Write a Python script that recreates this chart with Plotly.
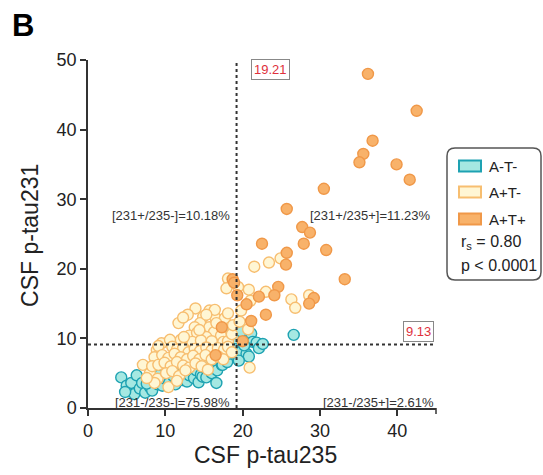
import plotly.graph_objects as go

# ---- data (x = CSF p-tau235, y = CSF p-tau231) ----
a_neg_t_neg = [
    (4.3, 4.4), (5.0, 3.2), (5.3, 2.4), (5.6, 3.6), (6.0, 2.0), (6.3, 4.7), (6.7, 2.8), (7.0, 3.6),
    (7.4, 2.2), (7.8, 4.0), (8.0, 3.0), (8.3, 2.5), (8.6, 4.3), (9.0, 3.4), (9.1, 7.4), (9.3, 4.8),
    (9.6, 3.2), (10.0, 4.2), (10.3, 5.5), (10.5, 3.6), (10.8, 7.0), (11.0, 4.6), (11.3, 3.4), (11.6, 5.2),
    (11.9, 6.3), (12.2, 4.0), (12.5, 5.0), (12.8, 3.8), (13.1, 4.7), (13.4, 6.0), (13.7, 4.3), (14.0, 5.4),
    (14.3, 3.7), (14.6, 4.8), (14.8, 4.5), (15.0, 5.8), (15.3, 4.4), (15.6, 6.3), (16.0, 5.0), (16.3, 6.8),
    (16.6, 3.6), (16.7, 5.4), (17.0, 7.0), (17.3, 6.2), (17.4, 6.2), (17.6, 8.0), (17.9, 6.9), (18.0, 6.6),
    (18.3, 7.8), (18.6, 9.0), (17.8, 10.4), (16.9, 9.6), (18.2, 11.6), (19.0, 10.0), (17.7, 11.2),
    (9.3, 6.2), (7.6, 3.5), (4.8, 2.3),
    (19.8, 11.0), (19.8, 8.1), (20.5, 7.8), (20.8, 7.4), (21.1, 10.7), (21.3, 9.5), (21.8, 9.4),
    (22.1, 8.6), (22.6, 9.2), (26.6, 10.5), (19.5, 6.8), (20.2, 9.0),
]

a_pos_t_neg = [
    (13.9, 14.3), (12.9, 13.4), (11.7, 12.2), (12.3, 13.0), (15.7, 14.0), (14.9, 13.1), (16.4, 13.1),
    (17.7, 12.9), (18.1, 13.6), (14.5, 12.2), (15.7, 11.6), (13.8, 11.6), (13.1, 10.4), (14.1, 10.8),
    (16.3, 10.9), (15.3, 10.2), (17.2, 10.4), (9.5, 9.3), (11.0, 9.3), (12.0, 9.8), (13.5, 9.5),
    (14.6, 9.7), (16.0, 9.6), (17.5, 9.5), (18.1, 9.6), (18.6, 10.6), (16.6, 12.2), (14.4, 11.2),
    (12.4, 10.2), (10.6, 9.8), (18.1, 18.6), (17.9, 17.2), (18.75, 11.9), (16.4, 14.1), (15.3, 13.4),
    (8.9, 8.3), (9.1, 8.9), (10.9, 8.8), (11.5, 8.4), (12.3, 8.6), (13.0, 8.0), (13.8, 8.5), (14.5, 8.2),
    (15.3, 8.7), (16.0, 8.3), (16.8, 8.6), (17.6, 8.4), (18.1, 8.8), (18.6, 8.0), (8.6, 7.3), (9.6, 7.6),
    (10.4, 7.2), (11.2, 7.8), (12.0, 7.3), (12.8, 7.0), (13.6, 7.5), (14.4, 7.0), (15.2, 7.6), (16.0, 7.0),
    (16.8, 7.4), (17.5, 7.0), (7.1, 6.2), (8.0, 5.0), (8.3, 6.0), (9.1, 6.2), (9.9, 6.5), (10.7, 6.0),
    (11.5, 6.6), (12.3, 6.1), (13.1, 5.8), (13.9, 6.4), (14.7, 6.0), (15.5, 5.5), (9.0, 4.2), (10.1, 5.0),
    (10.9, 5.3), (11.8, 4.6), (12.6, 5.4), (8.6, 3.6), (10.4, 3.0), (11.5, 3.9), (7.6, 4.3),
    (21.5, 20.3), (23.4, 20.9), (24.9, 21.5), (20.8, 17.0), (23.0, 16.7), (26.3, 15.6), (26.8, 14.4),
    (28.6, 16.2), (19.6, 12.4), (20.7, 11.3), (20.9, 5.8), (19.4, 17.4), (21.0, 15.4), (19.8, 14.0),
]

a_pos_t_pos = [
    (36.2, 48.0), (42.5, 42.7), (36.8, 38.4), (35.6, 36.5), (35.1, 35.3), (39.9, 35.0), (41.6, 32.8),
    (30.5, 31.5), (25.7, 28.6), (27.7, 26.0), (28.7, 25.2), (22.5, 23.6), (27.9, 23.6), (30.8, 22.7),
    (25.7, 22.3), (25.6, 20.6), (33.2, 18.5), (18.7, 18.5), (24.6, 17.4), (24.1, 16.2), (22.1, 16.0),
    (19.3, 16.2), (20.5, 14.9), (29.2, 15.8), (28.6, 15.0), (23.0, 13.4), (21.1, 12.5), (20.0, 9.6),
    (17.3, 11.6), (16.5, 7.6), (18.9, 18.0),
]

cutoff_x = 19.21
cutoff_y = 9.13
x_ticks = [0, 10, 20, 30, 40]
y_ticks = [0, 10, 20, 30, 40, 50]
quadrant_labels = ["[231+/235-]=10.18%", "[231+/235+]=11.23%", "[231-/235-]=75.98%", "[231-/235+]=2.61%"]
group_names = ["A-T-", "A+T-", "A+T+"]
stats_text = ["r<sub>s</sub> = 0.80", "p < 0.0001"]

styles = [
    dict(fill="rgb(165,232,226)", line="rgb(30,162,178)"),
    dict(fill="rgb(255,246,212)", line="rgb(247,190,112)"),
    dict(fill="rgb(248,178,106)", line="rgb(240,152,72)"),
]

fig = go.Figure()
for name, pts, st in zip(group_names, [a_neg_t_neg, a_pos_t_neg, a_pos_t_pos], styles):
    fig.add_trace(go.Scatter(
        x=[p[0] for p in pts], y=[p[1] for p in pts], mode="markers", name=name,
        marker=dict(size=11, color=st["fill"], line=dict(color=st["line"], width=1.4)),
        showlegend=False, cliponaxis=False,
    ))

# cutoff lines
fig.add_shape(type="line", x0=cutoff_x, x1=cutoff_x, y0=0, y1=50, xref="x", yref="y",
              line=dict(color="#333", width=2, dash="dot"))
fig.add_shape(type="line", x0=0, x1=45, y0=cutoff_y, y1=cutoff_y, xref="x", yref="y",
              line=dict(color="#333", width=2, dash="dot"))

font = "Liberation Sans, Arial, sans-serif"
# cutoff value boxes
fig.add_annotation(x=23.55, y=48.6, xref="x", yref="y", text=f"{cutoff_x:.2f}", showarrow=False,
                   font=dict(family=font, size=13, color="#e0303c"), bordercolor="#888",
                   borderwidth=1, borderpad=2, bgcolor="white", xanchor="center", yanchor="middle")
fig.add_annotation(x=42.7, y=10.96, xref="x", yref="y", text=f"{cutoff_y:.2f}", showarrow=False,
                   font=dict(family=font, size=13, color="#e0303c"), bordercolor="#888",
                   borderwidth=1, borderpad=2, bgcolor="white", xanchor="center", yanchor="middle")

# quadrant labels
q_pos = [(18.6, 27.7, "right"), (28.4, 27.7, "left"), (18.6, 0.75, "right"), (45.0, 0.75, "right")]
for txt, (qx, qy, anc) in zip(quadrant_labels, q_pos):
    fig.add_annotation(x=qx, y=qy, xref="x", yref="y", text=txt, showarrow=False, xanchor=anc,
                       yanchor="middle", font=dict(family=font, size=13, color="#333"))

# axis titles and panel letter
fig.add_annotation(x=0.511, y=-0.135, xref="paper", yref="paper", text="CSF p-tau235", showarrow=False,
                   xanchor="center", yanchor="middle", font=dict(family=font, size=23, color="#222"))
fig.add_annotation(x=-0.167, y=0.497, xref="paper", yref="paper", text="CSF p-tau231", showarrow=False,
                   xanchor="center", yanchor="middle", textangle=-90,
                   font=dict(family=font, size=23, color="#222"))
fig.add_annotation(x=-0.187, y=1.098, xref="paper", yref="paper", text="<b>B</b>", showarrow=False,
                   xanchor="center", yanchor="middle", font=dict(family=font, size=31, color="#000"))

# end tick of the x axis (at 45)
fig.add_shape(type="line", xref="paper", yref="paper", x0=1, x1=1, y0=0, y1=-6 / 348.0,
              line=dict(color="#333", width=1.5))

# legend (manual)
def px_x(p):
    return (p - 88) / 348.0

def px_y(p):
    return (408 - p) / 348.0

x0, x1, yt, yb, r = px_x(447), px_x(541), px_y(148), px_y(280), 8 / 348.0
path = (f"M {x0 + r} {yt} L {x1 - r} {yt} Q {x1} {yt} {x1} {yt - r} L {x1} {yb + r} "
        f"Q {x1} {yb} {x1 - r} {yb} L {x0 + r} {yb} Q {x0} {yb} {x0} {yb + r} "
        f"L {x0} {yt - r} Q {x0} {yt} {x0 + r} {yt} Z")
fig.add_shape(type="path", path=path, xref="paper", yref="paper",
              line=dict(color="#555", width=1.5), fillcolor="white", layer="below")
for name, st, cy in zip(group_names, styles, [166, 192, 219]):
    fig.add_shape(type="rect", xref="paper", yref="paper", x0=px_x(459), x1=px_x(481),
                  y0=px_y(cy + 5.5), y1=px_y(cy - 5.5), fillcolor=st["fill"],
                  line=dict(color=st["line"], width=2))
    fig.add_annotation(x=px_x(487), y=px_y(cy), xref="paper", yref="paper", text=name, showarrow=False,
                       xanchor="left", yanchor="middle", font=dict(family=font, size=15, color="#222"))
for txt, cy in zip(stats_text, [242, 265]):
    fig.add_annotation(x=px_x(459), y=px_y(cy), xref="paper", yref="paper", text=txt, showarrow=False,
                       xanchor="left", yanchor="middle", font=dict(family=font, size=16, color="#222"))

axis_common = dict(showline=True, linecolor="#333", linewidth=1.5, ticks="outside", ticklen=6,
                   tickwidth=1.5, tickcolor="#333", showgrid=False, zeroline=False,
                   tickfont=dict(family=font, size=18, color="#222"))
fig.update_layout(
    width=543, height=475, margin=dict(l=88, r=107, t=60, b=67),
    plot_bgcolor="white", paper_bgcolor="white",
    xaxis=dict(range=[0, 45], tickmode="array", tickvals=x_ticks, **axis_common),
    yaxis=dict(range=[0, 50], tickmode="array", tickvals=y_ticks, **axis_common),
)
fig.write_html("out.html", config={"displayModeBar": False},
               post_script="document.body.style.margin='0';document.body.style.overflow='hidden';")
